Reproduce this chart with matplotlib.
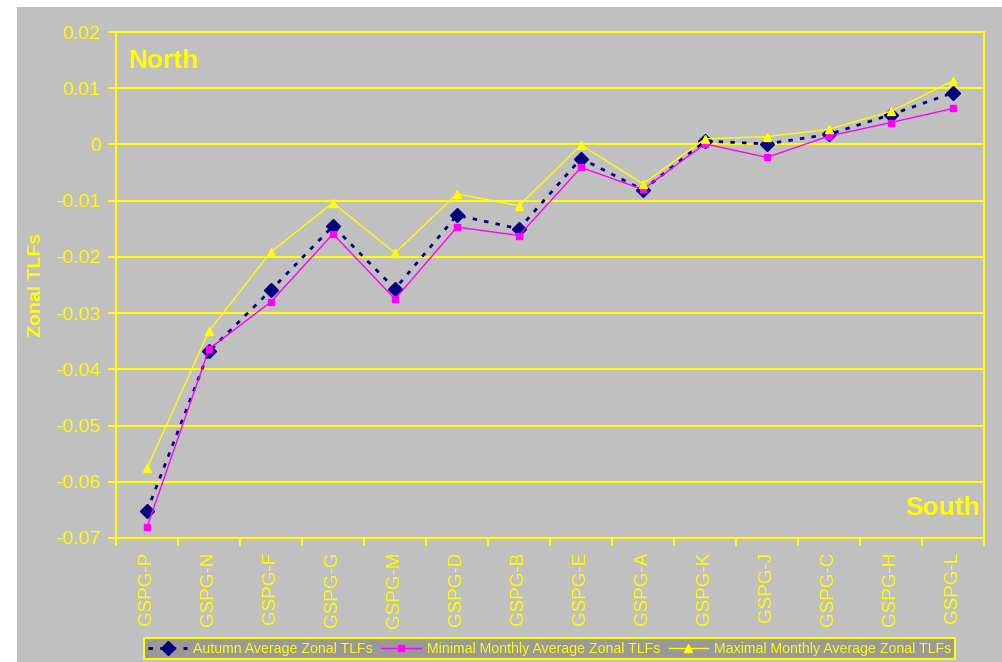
import matplotlib
matplotlib.use("Agg")
import matplotlib.pyplot as plt
from matplotlib.patches import Rectangle
from matplotlib.ticker import FixedLocator, NullFormatter, MultipleLocator, FuncFormatter

plt.rcParams['font.family'] = ['Liberation Sans', 'DejaVu Sans']

# Zonal TLF values per station, ordered north to south
stations = ["GSPG-P", "GSPG-N", "GSPG-F", "GSPG-G", "GSPG-M", "GSPG-D", "GSPG-B",
            "GSPG-E", "GSPG-A", "GSPG-K", "GSPG-J", "GSPG-C", "GSPG-H", "GSPG-L"]
autumn_avg = [-0.0652, -0.0368, -0.0259, -0.0145, -0.0257, -0.0126, -0.0150,
              -0.0025, -0.0081, 0.0006, 0.0001, 0.0018, 0.0053, 0.0092]
monthly_min = [-0.0681, -0.0364, -0.0280, -0.0159, -0.0275, -0.0147, -0.0162,
               -0.0041, -0.0080, 0.0001, -0.0023, 0.0015, 0.0039, 0.0064]
monthly_max = [-0.0576, -0.0332, -0.0191, -0.0104, -0.0193, -0.0088, -0.0109,
               -0.0001, -0.0070, 0.0010, 0.0014, 0.0027, 0.0059, 0.0113]
series_labels = ["Autumn Average Zonal TLFs",
                 "Minimal Monthly Average Zonal TLFs",
                 "Maximal Monthly Average Zonal TLFs"]

YELLOW = "#FFFF00"
GRAY = "#C0C0C0"
NAVY = "#000080"
MAGENTA = "#FF00FF"

W, H = 1002, 662
fig = plt.figure(figsize=(W / 100, H / 100), dpi=100, facecolor="white")

# chart area background
fig.patches.append(Rectangle((17 / W, 0), (W - 17) / W, (H - 7) / H,
                             transform=fig.transFigure, facecolor=GRAY,
                             edgecolor="none", zorder=-10))

ax = fig.add_axes([116 / W, 1 - 538 / H, (984 - 116) / W, (538 - 32) / H])
ax.set_zorder(1)
ax.set_facecolor(GRAY)

x = list(range(len(stations)))
ax.plot(x, autumn_avg, color=NAVY, lw=2.0, ls=(0, (1.6, 2.6)), marker="D",
        ms=7.5, mfc=NAVY, mec=NAVY, label=series_labels[0], zorder=3)
ax.plot(x, monthly_min, color=MAGENTA, lw=1.0, marker="s", ms=5,
        mfc=MAGENTA, mec=MAGENTA, label=series_labels[1], zorder=4)
ax.plot(x, monthly_max, color=YELLOW, lw=1.0, marker="^", ms=6,
        mfc=YELLOW, mec=YELLOW, label=series_labels[2], zorder=5)

ax.set_xlim(-0.5, len(stations) - 0.5)
ax.set_ylim(-0.07, 0.02)
ax.yaxis.set_major_locator(MultipleLocator(0.01))
ax.yaxis.set_major_formatter(FuncFormatter(
    lambda v, p: "0" if abs(v) < 1e-12 else f"{v:.2f}"))
ax.grid(axis="y", color=YELLOW, lw=1.5, zorder=1)
ax.set_axisbelow(True)

ax.set_xticks(x)
ax.set_xticklabels(stations, rotation=90, fontsize=13.5, color=YELLOW)
ax.xaxis.set_minor_locator(FixedLocator([i - 0.5 for i in range(len(stations) + 1)]))
ax.xaxis.set_minor_formatter(NullFormatter())
ax.tick_params(axis="x", which="major", length=0, pad=10)
ax.tick_params(axis="x", which="minor", length=6, width=1.5, color=YELLOW,
               direction="out")
ax.tick_params(axis="y", length=6, width=1.5, color=YELLOW, labelsize=14,
               labelcolor=YELLOW, pad=5)

for s in ax.spines.values():
    s.set_color(YELLOW)
    s.set_linewidth(1.5)

ax.set_ylabel("Zonal TLFs", color=YELLOW, fontsize=14, fontweight="bold",
              labelpad=8)

fig.text(128 / W, 1 - 68 / H, "North", color=YELLOW, fontsize=19,
         fontweight="bold", ha="left", va="baseline", zorder=5)
fig.text(980 / W, 1 - 515 / H, "South", color=YELLOW, fontsize=19,
         fontweight="bold", ha="right", va="baseline", zorder=5)

leg = fig.legend(loc="center", bbox_to_anchor=(549.5 / W, 1 - 648.5 / H),
                 bbox_transform=fig.transFigure, ncol=3, fontsize=10.2,
                 frameon=True, fancybox=False, facecolor="#999999",
                 edgecolor=YELLOW, framealpha=1, borderpad=0.25,
                 handlelength=2.8, handletextpad=0.4, columnspacing=0.6,
                 borderaxespad=0)
leg.set_zorder(5)
leg.get_frame().set_linewidth(1.5)
for t in leg.get_texts():
    t.set_color(YELLOW)

fig.savefig("out.png", dpi=100, facecolor="white")
